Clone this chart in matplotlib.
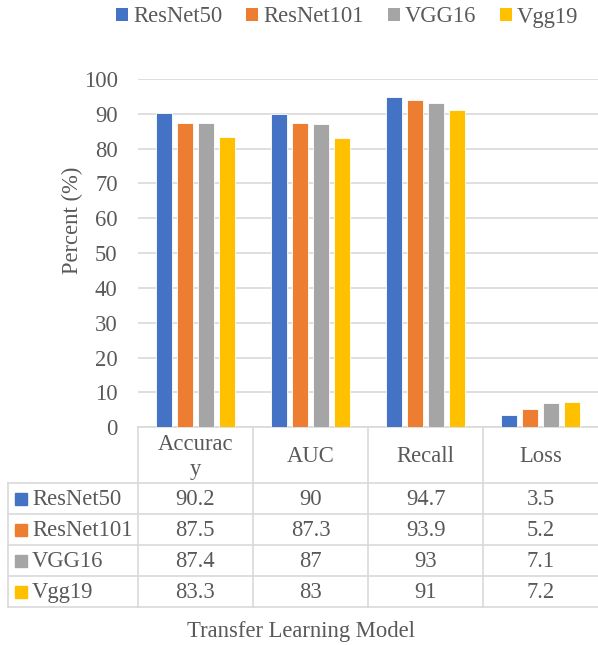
import matplotlib
matplotlib.use("Agg")
import matplotlib.pyplot as plt
from matplotlib.patches import Patch, Rectangle
import numpy as np

categories = ["Accuracy", "AUC", "Recall", "Loss"]
header_labels = ["Accurac\ny", "AUC", "Recall", "Loss"]
series_names = ["ResNet50", "ResNet101", "VGG16", "Vgg19"]
resnet50 = [90.2, 90, 94.7, 3.5]
resnet101 = [87.5, 87.3, 93.9, 5.2]
vgg16 = [87.4, 87, 93, 7.1]
vgg19 = [83.3, 83, 91, 7.2]
series_values = [resnet50, resnet101, vgg16, vgg19]
colors = ["#4472C4", "#ED7D31", "#A5A5A5", "#FFC000"]
yticks = [0, 10, 20, 30, 40, 50, 60, 70, 80, 90, 100]

W, H = 598, 645
FONT = "Liberation Serif"
FS = 16.3
TXT = "#595959"
GRID = "#D9D9D9"

fig = plt.figure(figsize=(W / 100, H / 100), dpi=100)

# plot area in pixels
px0, px1 = 137.7, 598.5
py_top, py_bot = 79.0, 427.3
ax = fig.add_axes([px0 / W, 1 - py_bot / H, (px1 - px0) / W, (py_bot - py_top) / H])

x = np.arange(len(categories))
bw = 0.139
pitch = 0.182
for i, (name, vals, c) in enumerate(zip(series_names, series_values, colors)):
    ax.bar(x + (i - 1.5) * pitch, vals, width=bw, color=c, edgecolor="white",
           linewidth=0.6, zorder=3, label=name)

ax.set_xlim(-0.5, len(categories) - 0.5)
ax.set_ylim(0, 100)
ax.set_yticks(yticks)
ax.set_yticklabels([str(t) for t in yticks], fontfamily=FONT, fontsize=FS, color=TXT)
ax.tick_params(axis="y", length=0, pad=14.4)
ax.set_xticks([])
ax.grid(axis="y", color=GRID, linewidth=1.2, zorder=0)
ax.set_axisbelow(True)
for s in ["top", "right", "left"]:
    ax.spines[s].set_visible(False)
ax.spines["bottom"].set_color(GRID)
ax.spines["bottom"].set_linewidth(1.2)

fig.text(72 / W, 1 - 220 / H, "Percent (%)", rotation=90, ha="center", va="center",
         fontfamily=FONT, fontsize=FS, color=TXT)

# overlay axes in pixel coordinates for the data table
ov = fig.add_axes([0, 0, 1, 1])
ov.set_xlim(0, W)
ov.set_ylim(H, 0)
ov.axis("off")

col_w = (px1 - px0) / len(categories)
col_edges = [px0 + i * col_w for i in range(len(categories) + 1)]
header_top, header_bot = py_bot, 483.3
row_h = 31.0
row_edges = [header_bot + r * row_h for r in range(len(series_names) + 1)]
left_edge = 8.3
lw = 1.2

for xe in col_edges:
    ov.plot([xe, xe], [header_top, row_edges[-1]], color=GRID, lw=lw)
ov.plot([left_edge, left_edge], [header_bot, row_edges[-1]], color=GRID, lw=lw)
for ye in row_edges:
    ov.plot([left_edge, px1], [ye, ye], color=GRID, lw=lw)

for i, lab in enumerate(header_labels):
    cx = (col_edges[i] + col_edges[i + 1]) / 2
    multi = "\n" in lab
    ov.text(cx, 457 if multi else (header_top + header_bot) / 2 + 1, lab,
            ha="center", va="center", fontfamily=FONT, fontsize=FS, color=TXT,
            linespacing=1.3)

for r, (name, vals, c) in enumerate(zip(series_names, series_values, colors)):
    cy = (row_edges[r] + row_edges[r + 1]) / 2
    ov.add_patch(Rectangle((15, cy - 6), 12, 12, color=c))
    ov.text(32, cy + 1, name, ha="left", va="center", fontfamily=FONT, fontsize=FS, color=TXT)
    for i, v in enumerate(vals):
        cx = (col_edges[i] + col_edges[i + 1]) / 2
        ov.text(cx, cy + 1, f"{v:g}", ha="center", va="center", fontfamily=FONT,
                fontsize=FS, color=TXT)

fig.text(301 / W, 1 - 632 / H, "Transfer Learning Model", ha="center", va="center",
         fontfamily=FONT, fontsize=FS, color=TXT)

handles = [Patch(facecolor=c, edgecolor="none") for c in colors]
leg = fig.legend(handles, series_names, loc="center left",
                 bbox_to_anchor=(116 / W, 1 - 17 / H), ncol=4, frameon=False,
                 prop={"family": FONT, "size": FS}, handlelength=0.53, handleheight=0.53,
                 handletextpad=0.22, columnspacing=1.06, borderpad=0, borderaxespad=0)
for t in leg.get_texts():
    t.set_color(TXT)

fig.savefig("out.png", dpi=100)
